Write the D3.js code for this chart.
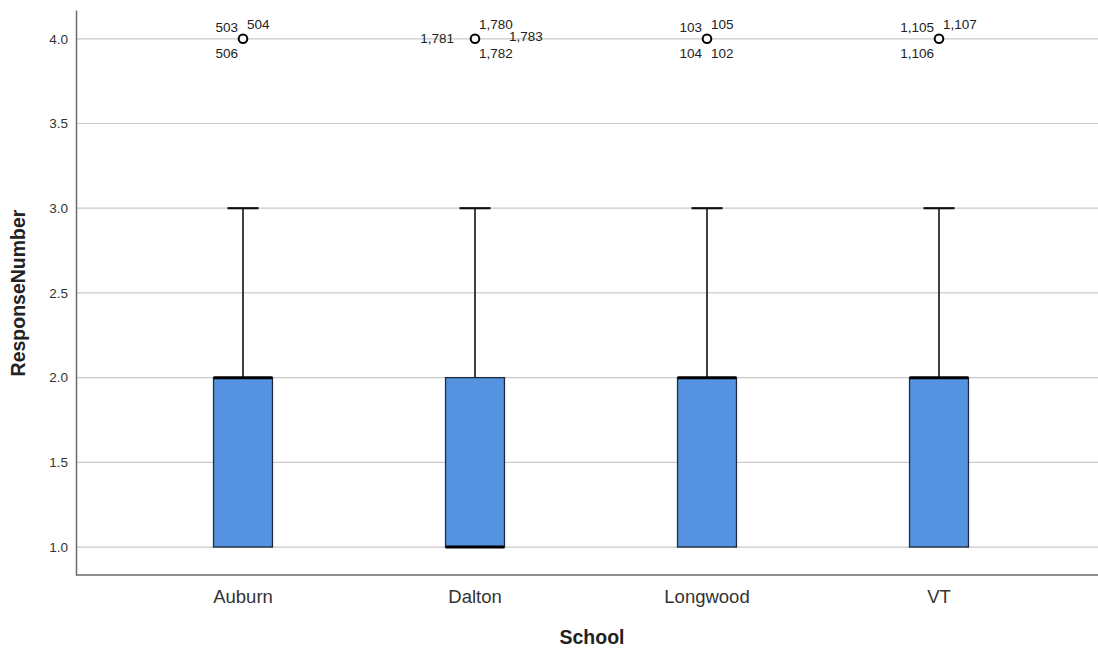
<!DOCTYPE html>
<meta charset="utf-8">
<script src="https://d3js.org/d3.v7.min.js"></script>
<style>
  body { margin: 0; background: #fff; }
  text { font-family: "Liberation Sans", Arial, sans-serif; }
</style>
<svg id="chart" width="1098" height="648"></svg>
<script>

// values
var schools = ["Auburn", "Dalton", "Longwood", "VT"]
var whiskerLow = [1, 1, 1, 1]
var q1 = [1, 1, 1, 1]
var median = [2, 1, 2, 2]
var q3 = [2, 2, 2, 2]
var whiskerHigh = [3, 3, 3, 3]
var outlierValue = [4, 4, 4, 4]
var outlierIds = [
  ["503", "504", "506"],
  ["1,781", "1,780", "1,783", "1,782"],
  ["103", "105", "104", "102"],
  ["1,105", "1,107", "1,106"]
]
var outlierSpots = [
  ["tl", "tr", "bl"],
  ["l", "tr", "r", "br"],
  ["tl", "tr", "bl", "br"],
  ["tl", "tr", "bl"]
]
var yTicks = [1.0, 1.5, 2.0, 2.5, 3.0, 3.5, 4.0]

var svg = d3.select("#chart")

// note: "top" is taken by window.top, so use plot* names
var plotLeft = 76, plotRight = 1098, plotTop = 10, plotBottom = 575

var x = d3.scaleBand()
  .domain(schools)
  .range([127, 1055])
  .padding(0)

var y = d3.scaleLinear()
  .domain([0.835, 4.17])
  .range([plotBottom, plotTop])

var boxW = x.bandwidth() * 0.254
var capW = x.bandwidth() * 0.134

// gridlines
svg.append("g")
  .selectAll("line")
  .data(yTicks)
  .join("line")
  .attr("x1", plotLeft)
  .attr("x2", plotRight)
  .attr("y1", d => y(d))
  .attr("y2", d => y(d))
  .attr("stroke", "#c9c9c9")
  .attr("stroke-width", 1.2)

// y axis
var yAxis = svg.append("g")
  .attr("transform", `translate(${plotLeft},0)`)
  .call(d3.axisLeft(y).tickValues(yTicks).tickFormat(d3.format(".1f")).tickSize(0).tickPadding(8))
yAxis.select(".domain").attr("stroke", "#6b6b6b").attr("stroke-width", 1.5)
yAxis.selectAll("text").style("font-size", "13.5px").attr("fill", "#333")

// x axis
var xAxis = svg.append("g")
  .attr("transform", `translate(0,${plotBottom})`)
  .call(d3.axisBottom(x).tickSize(0).tickPadding(15))
xAxis.select(".domain").attr("d", `M${plotLeft},0H${plotRight}`).attr("stroke", "#6b6b6b").attr("stroke-width", 1.5)
xAxis.selectAll("text").style("font-size", "18.5px").attr("fill", "#333")

// axis titles
svg.append("text")
  .attr("x", (plotLeft + plotRight) / 2 + 5)
  .attr("y", 644)
  .style("text-anchor", "middle")
  .style("font-size", "19.5px")
  .style("font-weight", "bold")
  .attr("fill", "#222")
  .text("School")

svg.append("text")
  .attr("transform", "translate(25,293) rotate(-90)")
  .style("text-anchor", "middle")
  .style("font-size", "19.5px")
  .style("font-weight", "bold")
  .attr("fill", "#222")
  .text("ResponseNumber")

var boxes = svg.append("g")
  .selectAll("g")
  .data(schools)
  .join("g")

var cx = (d) => x(d) + x.bandwidth() / 2

// whisker
boxes.append("line")
  .attr("x1", cx).attr("x2", cx)
  .attr("y1", (d, i) => y(q3[i]))
  .attr("y2", (d, i) => y(whiskerHigh[i]))
  .attr("stroke", "#111")
  .attr("stroke-width", 1.6)

boxes.append("line")
  .attr("x1", d => cx(d) - capW / 2)
  .attr("x2", d => cx(d) + capW / 2)
  .attr("y1", (d, i) => y(whiskerHigh[i]))
  .attr("y2", (d, i) => y(whiskerHigh[i]))
  .attr("stroke", "#111")
  .attr("stroke-width", 2.2)

// box
boxes.append("rect")
  .attr("x", d => cx(d) - boxW / 2)
  .attr("width", boxW)
  .attr("y", (d, i) => y(q3[i]))
  .attr("height", (d, i) => y(q1[i]) - y(q3[i]))
  .attr("fill", "#5593e1")
  .attr("stroke", "#1e2a3a")
  .attr("stroke-width", 1.3)

// median
boxes.append("line")
  .attr("x1", d => cx(d) - boxW / 2)
  .attr("x2", d => cx(d) + boxW / 2)
  .attr("y1", (d, i) => y(median[i]))
  .attr("y2", (d, i) => y(median[i]))
  .attr("stroke", "#000")
  .attr("stroke-width", 3)

// outliers
boxes.append("circle")
  .attr("cx", cx)
  .attr("cy", (d, i) => y(outlierValue[i]))
  .attr("r", 4.3)
  .attr("fill", "#fff")
  .attr("stroke", "#000")
  .attr("stroke-width", 2)

var spot = {
  tl: { dx: -5, dy: -7, anchor: "end" },
  tr: { dx: 4, dy: -10, anchor: "start" },
  bl: { dx: -5, dy: 19, anchor: "end" },
  br: { dx: 4, dy: 19, anchor: "start" },
  l: { dx: -21, dy: 4, anchor: "end" },
  r: { dx: 34, dy: 2, anchor: "start" }
}

boxes.each(function(d, i) {
  var g = d3.select(this)
  outlierIds[i].forEach(function(id, j) {
    var s = spot[outlierSpots[i][j]]
    g.append("text")
      .attr("x", cx(d) + s.dx)
      .attr("y", y(outlierValue[i]) + s.dy)
      .style("text-anchor", s.anchor)
      .style("font-size", "13.5px")
      .attr("fill", "#222")
      .text(id)
  })
})

</script>
